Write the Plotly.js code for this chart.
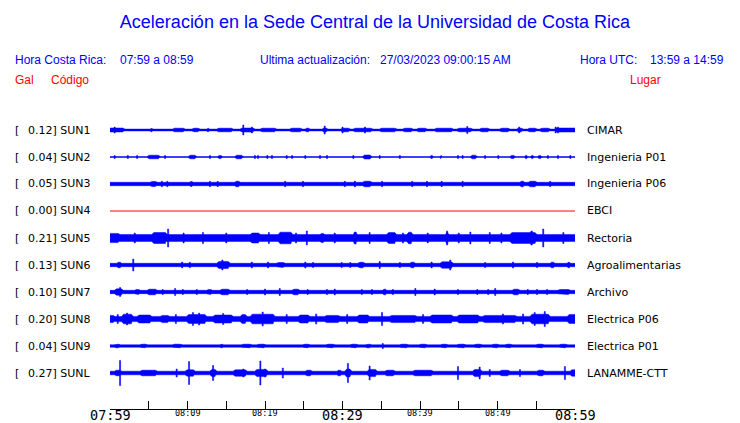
<!DOCTYPE html>
<html>
<head>
<meta charset="utf-8">
<script src="https://cdn.plot.ly/plotly-3.0.1.min.js"></script>
<style>html,body{margin:0;padding:0;background:#fff;}#chart{width:740px;height:423px;}</style>
</head>
<body>
<div id="chart"></div>
<script>
// ---- data (time in minutes after 07:59, amplitudes as half-widths of the trace band) ----
const stations = ['SUN1','SUN2','SUN3','SUN4','SUN5','SUN6','SUN7','SUN8','SUN9','SUNL'];
const galValues = ['0.12','0.04','0.05','0.00','0.21','0.13','0.10','0.20','0.04','0.27'];
const places = ['CIMAR','Ingenieria P01','Ingenieria P06','EBCI','Rectoria','Agroalimentarias','Archivo','Electrica P06','Electrica P01','LANAMME-CTT'];
const baseHalf = [0.9, 0.5, 1.7, 0.0, 3.4, 1.7, 1.7, 2.6, 1.2, 1.8];

const tickMinutes = [0,5,10,15,20,25,30,35,40,45,50,55,60];
const tickLabels = ['07:59','','08:09','','08:19','','08:29','','08:39','','08:49','','08:59'];
const bigTickLabels = ['07:59','08:29','08:59'];

// bursts: [start, end, halfAmp]; spikes: [time, halfAmp]
const sun1Bursts = [[0,1.9,2],[5.2,5.5,1.8],[8.1,9.7,1.8],[10.6,11.6,1.8],[12.5,12.8,1.8],[13.8,15.9,1.8],[16.8,18.7,2],[19.4,21.5,1.8],[23.2,24.8,1.8],[25.2,25.8,1.8],[27.4,28.1,2],[29.8,31.0,1.8],[31.4,33.9,1.8],[34.8,37.0,1.8],[37.8,39.1,1.8],[39.6,40.9,1.8],[41.9,44.3,1.8],[44.8,46.8,1.8],[47.7,49.0,1.8],[50.3,51.6,1.8],[52.5,53.3,1.8],[53.9,55.1,1.8],[55.5,56.8,1.8],[57.4,60,2]];
const sun1Spikes = [[0.6,3],[17.2,5],[18.3,3],[27.7,4],[30.0,3],[32.9,3],[46.1,3.5],[52.8,3],[57.5,3],[57.8,3]];

const sun2Bursts = [[4.8,6.5,1.8],[10.1,11.2,1.8],[13.9,14.5,1.6],[16.1,17.2,1.8],[32.6,33.8,2],[41.3,41.7,1.6],[42.6,42.8,1.8],[46.5,47.4,1.8],[51.6,52.3,1.6],[53.5,53.9,1.6],[54.3,54.7,1.6],[55.2,55.7,1.6]];
const sun2Spikes = [[0.6,1.5],[2.3,1.5],[3.5,1.5],[7.1,1.5],[12.9,1.5],[18.7,1.5],[19.1,1.5],[20.3,1.5],[20.9,1.5],[22.8,1.5],[23.5,1.5],[25.2,1.5],[27.1,1.5],[28.0,1.5],[31.4,1.5],[34.8,1.5],[37.4,1.5],[44.9,1.5],[45.5,1.5],[48.4,1.5],[50.1,1.5],[56.5,1.5],[57.8,1.5],[59.4,1.5]];

const sun3Bursts = [[5.2,6.1,2.6],[10.3,10.7,2.6],[16.1,16.8,2.8],[32.6,33.8,2.8],[52.9,53.5,2.8],[54.0,55.1,2.8]];
const sun3Spikes = [[6.7,2.7],[7.4,2.7],[12.9,2.7],[13.9,2.7],[22.6,2.7],[24.9,2.7],[30.3,2.7],[31.6,3],[35.1,2.7],[39.0,2.7],[40.9,2.7],[42.8,2.7],[45.5,2.7],[56.8,2.7]];

const sun4Bursts = [];
const sun4Spikes = [];

const sun5Bursts = [[0,1.3,4.6],[5.4,7.4,5.5],[18.1,19.4,5],[21.7,23.6,5.8],[27.1,27.7,4.6],[31.4,31.9,6],[35.7,37.0,5.4],[38.3,39.1,5.8],[43.3,43.7,5.4],[51.6,55.1,5.4],[54.2,54.6,7]];
const sun5Spikes = [[7.5,9],[25.4,7],[43.5,7],[46.5,6],[55.9,9],[3.2,5],[12.0,5.5],[15.0,5],[29.0,5],[33.5,5.5],[41.0,5],[49.0,5.5],[58.5,5.5],[9.5,5],[20.5,5.5],[24.0,5],[37.8,5],[45.0,5],[50.5,5]];

const sun6Bursts = [[0.9,1.5,2.8],[13.8,15.5,3.6],[21.5,22.6,2.4],[32.0,32.9,2.8],[38.7,39.4,2.8],[42.6,44.3,3.2],[56.8,57.4,2.8],[59.0,59.4,2.8]];
const sun6Spikes = [[3.0,6],[9.3,3],[10.3,2.8],[14.5,5],[18.3,3],[20.4,3],[25.2,3],[26.2,2.5],[29.9,2.5],[31.0,2.5],[34.8,3.5],[37.4,2.5],[41.5,3],[43.9,5],[48.4,2.5],[52.0,3],[55.1,2.5]];

const sun7Bursts = [[0.6,1.7,3.2],[3.2,3.9,2.4],[4.8,6.1,2.8],[12.5,13.2,2.4],[14.2,15.5,2.8],[23.5,24.5,2.8],[35.2,35.7,2.8],[51.9,52.9,2.8],[57.8,59.4,2.4]];
const sun7Spikes = [[1.3,4.5],[6.8,2.5],[8.4,3.5],[9.4,2.5],[11.2,2.5],[17.7,2.5],[20.0,3],[21.9,3.5],[25.5,2.5],[28.0,2.5],[29.0,3],[32.5,2.5],[33.8,2.5],[36.5,2.5],[39.4,3.5],[41.9,3],[44.9,2.5],[47.4,2.5],[48.8,2.5],[49.7,3.5],[53.9,2.5],[55.1,2.5],[56.4,2.5]];

const sun8Bursts = [[0,0.6,3.6],[1.5,3.0,4.8],[3.5,5.4,4],[6.5,7.7,3.6],[9.9,12.5,4.4],[13.3,15.9,4],[16.8,17.7,4.4],[18.1,21.3,4.8],[24.3,25.8,4],[27.7,29.7,3.6],[31.9,33.5,4],[36.1,39.6,3.6],[41.3,44.3,4],[44.8,47.7,4],[48.1,52.5,3.6],[54.2,56.8,4.8],[59.0,60,4.4]];
const sun8Spikes = [[10.7,6.5],[19.7,7],[35.1,6.5],[50.7,5],[56.1,7.5],[2.2,6],[11.5,6],[14.6,5.5],[54.8,6.5],[1.0,4.5],[8.5,4.5],[22.8,4.5],[26.6,5],[30.6,4.5],[40.4,4.5],[53.3,5]];

const sun9Bursts = [[0.6,1.3,1.8],[3.9,4.8,1.8],[8.1,9.3,1.8],[14.2,14.6,1.8],[17.0,18.3,1.8],[19.0,20.1,1.8],[24.9,25.8,1.8],[27.9,29.0,1.8],[31.0,32.0,1.8],[33.0,33.7,1.8],[37.4,38.5,1.8],[39.9,40.9,1.8],[42.7,43.6,1.8],[44.8,45.9,1.8],[47.0,48.0,1.8],[49.3,50.2,1.8],[51.0,51.9,1.8],[55.0,56.0,1.8],[58.0,59.0,1.8]];
const sun9Spikes = [[35.2,2.6]];

const sunLBursts = [[0.6,1.5,2.8],[3.9,6.1,2.8],[9.7,11.0,3.2],[12.9,13.8,3.6],[15.9,17.7,3.2],[18.7,20.4,3.6],[25.2,26.1,2.8],[29.3,29.9,2.8],[30.3,31.2,4],[33.2,34.5,3.6],[35.5,36.8,2.8],[39.1,41.7,2.8],[46.8,48.0,3.6],[50.3,51.6,2.8],[55.1,56.1,2.8],[59.4,60,3.2]];
const sunLSpikes = [[1.3,12.5],[8.6,4],[10.2,11.5],[13.3,7.5],[17.2,4],[19.4,12],[20.0,4],[22.3,5],[30.7,9.5],[33.5,7],[44.9,6.5],[47.7,6],[49.0,3.5],[52.9,3.5],[58.7,6.5]];

const burstsList = [sun1Bursts,sun2Bursts,sun3Bursts,sun4Bursts,sun5Bursts,sun6Bursts,sun7Bursts,sun8Bursts,sun9Bursts,sunLBursts];
const spikesList = [sun1Spikes,sun2Spikes,sun3Spikes,sun4Spikes,sun5Spikes,sun6Spikes,sun7Spikes,sun8Spikes,sun9Spikes,sunLSpikes];

// ---- layout helpers (pixel geometry of the figure) ----
const W = 740, H = 423;
const plotLeft = 110, plotRight = 575, plotTop = 115, plotBottom = 409;
const rowFirst = 15, rowStep = 27;   // row centres in y units (1 unit = 1 px)
const spikeHalfWidth = 0.07;          // minutes
const BLUE = '#0000ff', RED = '#ff0000';

function px(x){ return x / W; }
function py(y){ return 1 - y / H; }

const traces = [];
stations.forEach((s, i) => {
  const c = rowFirst + rowStep * i;
  if (baseHalf[i] === 0) {
    traces.push({type:'scatter', mode:'lines', x:[0,60], y:[c,c],
      line:{color:RED, width:1}, hoverinfo:'skip', showlegend:false});
    return;
  }
  const b0 = baseHalf[i];
  const xs = [], ys = [];
  function rect(t1, t2, h){
    xs.push(t1, t2, t2, t1, t1, null);
    ys.push(c-h, c-h, c+h, c+h, c-h, null);
  }
  function spindle(t1, t2, h){
    const d = Math.min(0.25, (t2 - t1) * 0.3);
    const dl = t1 <= 0 ? 0 : d;
    const dr = t2 >= 60 ? 0 : d;
    xs.push(t1, t1+dl, t2-dr, t2, t2-dr, t1+dl, t1, null);
    ys.push(dl ? c-b0 : c-h, c-h, c-h, dr ? c-b0 : c-h, c+h, c+h, dl ? c+b0 : c+h, null);
  }
  rect(0, 60, b0);
  burstsList[i].forEach(b => spindle(b[0], b[1], b[2]));
  spikesList[i].forEach(sp => rect(sp[0]-spikeHalfWidth, sp[0]+spikeHalfWidth, sp[1]));
  traces.push({type:'scatter', mode:'lines', x:xs, y:ys, fill:'toself',
    fillcolor:BLUE, line:{color:BLUE, width:0.5}, hoverinfo:'skip', showlegend:false});
});

const headerFont = {family:'Liberation Sans, Arial, sans-serif', size:12, color:BLUE};
const redFont = {family:'Liberation Sans, Arial, sans-serif', size:12, color:RED};
const labelFont = {family:'DejaVu Sans, sans-serif', size:11, color:'#000'};

const annotations = [];
function addText(text, x, y, font, anchor){
  annotations.push({text:text, xref:'paper', yref:'paper', x:px(x), y:py(y),
    xanchor:anchor||'left', yanchor:'middle', showarrow:false, font:font});
}
addText('Hora Costa Rica:', 13, 60, headerFont);
addText('07:59 a 08:59', 118, 60, headerFont);
addText('Ultima actualización:', 258, 60, headerFont);
addText('27/03/2023 09:00:15 AM', 378, 60, headerFont);
addText('Hora UTC:', 578, 60, headerFont);
addText('13:59 a 14:59', 648, 60, headerFont);
addText('Gal', 13, 80, redFont);
addText('Código', 49, 80, redFont);
addText('Lugar', 628, 80, redFont);

stations.forEach((s, i) => {
  const yPix = plotTop + rowFirst + rowStep * i;
  addText('[', 13, yPix, labelFont);
  addText(galValues[i] + '] ' + s, 26, yPix, labelFont);
  addText(places[i], 585, yPix, labelFont);
});

tickMinutes.forEach((m, k) => {
  const lab = tickLabels[k];
  if (!lab) return;
  const big = bigTickLabels.indexOf(lab) >= 0;
  annotations.push({text:lab, xref:'x', yref:'paper', x:m, y:py(big ? 414.5 : 412.5),
    xanchor:'center', yanchor:'middle', showarrow:false, borderpad:0,
    font:{family:'DejaVu Sans Mono, monospace', size: big ? 13.5 : 8.5, color:'#000'}});
});

const layout = {
  width:W, height:H,
  margin:{l:0, r:0, t:0, b:0},
  paper_bgcolor:'#fff', plot_bgcolor:'#fff',
  title:{text:'Aceleración en la Sede Central de la Universidad de Costa Rica',
    font:{family:'Liberation Sans, Arial, sans-serif', size:18, color:BLUE},
    xref:'paper', yref:'paper', x:px(375), y:py(22), xanchor:'center', yanchor:'middle'},
  xaxis:{domain:[px(plotLeft), px(plotRight)], range:[0,60], showgrid:false, zeroline:false,
    showline:true, linecolor:'#000', linewidth:1, ticks:'inside', ticklen:8, tickcolor:'#000',
    tickwidth:1, tickvals:tickMinutes, showticklabels:false, fixedrange:true},
  yaxis:{domain:[py(plotBottom), py(plotTop)], range:[294, 0], visible:false, fixedrange:true},
  annotations:annotations,
  showlegend:false, hovermode:false
};

Plotly.newPlot('chart', traces, layout, {staticPlot:true, displayModeBar:false});
</script>
</body>
</html>
